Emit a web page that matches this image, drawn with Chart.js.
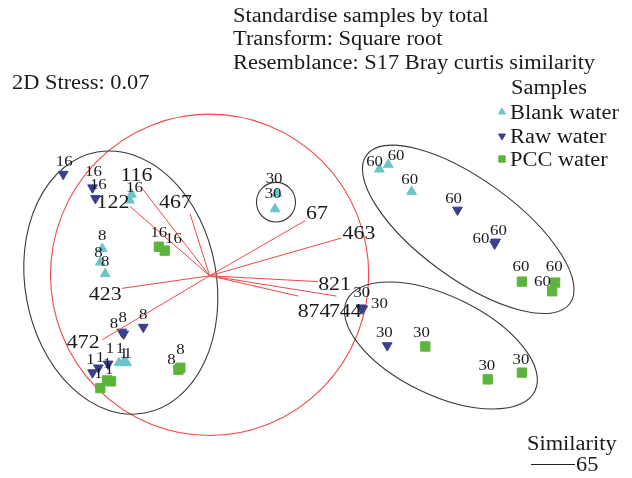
<!DOCTYPE html>
<html>
<head>
<meta charset="utf-8">
<script src="https://cdn.jsdelivr.net/npm/chart.js@4.4.0/dist/chart.umd.min.js"></script>
<style>
    html, body { margin: 0; padding: 0; background: #fff; }
    #wrap { width: 632px; height: 478px; }
</style>
</head>
<body>
<div id="wrap"><canvas id="nmds" width="632" height="478"></canvas></div>
<script>
// nMDS ordination (Bray-Curtis) with vector overlay, clusters at 65% similarity

// ---- sample scores: blank water ----
const blankX    = [-0.80, -0.82, -1.10, -1.12, -1.07, -0.93, -0.88, -0.85, 0.69, 0.67, 1.74, 1.83, 2.07];
const blankY    = [0.84, 0.78, 0.28, 0.14, 0.02, -0.90, -0.89, -0.90, 0.85, 0.69, 1.10, 1.15, 0.87];
const blankTag  = ['16', '', '8', '8', '8', '1', '1', '1', '30', '30', '60', '60', '60'];
const blankTagX = [-0.77, -0.77, -1.10, -1.14, -1.07, -0.92, -0.88, -0.84, 0.66, 0.65, 1.69, 1.91, 2.05];
const blankTagY = [0.92, 0.92, 0.42, 0.25, 0.15, -0.75, -0.80, -0.80, 1.01, 0.85, 1.19, 1.25, 1.00];

// ---- raw water ----
const rawX    = [-1.50, -1.20, -1.17, -0.90, -0.88, -0.68, -1.20, -1.14, -1.04, 2.54, 2.92, 2.93, 1.82, 1.55, 1.57];
const rawY    = [1.05, 0.91, 0.80, -0.58, -0.60, -0.53, -1.00, -0.95, -0.91, 0.68, 0.33, 0.35, -0.72, -0.33, -0.34];
const rawTag  = ['16', '16', '16', '8', '8', '8', '1', '1', '1', '60', '60', '60', '30', '30', '30'];
const rawTagX = [-1.49, -1.19, -1.14, -0.98, -0.89, -0.68, -1.22, -1.12, -1.05, 2.50, 2.78, 2.96, 1.79, 1.56, 1.74];
const rawTagY = [1.18, 1.08, 0.95, -0.49, -0.43, -0.40, -0.86, -0.84, -0.90, 0.80, 0.39, 0.47, -0.58, -0.17, -0.28];

// ---- PCC water ----
const pccX    = [-0.52, -0.46, -0.30, -0.32, -1.05, -1.01, -1.12, 3.20, 3.54, 3.51, 2.21, 2.85, 3.20];
const pccY    = [0.30, 0.26, -0.95, -0.97, -1.08, -1.09, -1.16, -0.06, -0.07, -0.16, -0.73, -1.07, -1.00];
const pccTag  = ['16', '16', '8', '8', '1', '1', '1', '60', '60', '60', '30', '30', '30'];
const pccTagX = [-0.52, -0.37, -0.30, -0.39, -1.14, -1.03, -1.02, 3.19, 3.53, 3.41, 2.17, 2.84, 3.19];
const pccTagY = [0.45, 0.39, -0.76, -0.86, -1.00, -0.96, -0.75, 0.10, 0.10, -0.05, -0.58, -0.92, -0.86];

// ---- correlation vectors (from origin) ----
const vecNames = ['116', '122', '467', '423', '472', '67', '463', '821', '874', '744'];
const vecX     = [-0.69, -0.82, -0.20, -0.90, -1.10, 0.98, 1.35, 1.11, 0.91, 1.30];
const vecY     = [0.90, 0.72, 0.64, -0.13, -0.66, 0.57, 0.39, -0.06, -0.21, -0.21];
const vecTagX  = [-0.75, -0.99, -0.35, -1.07, -1.295, 1.10, 1.53, 1.28, 1.07, 1.39];
const vecTagY  = [1.05, 0.77, 0.77, -0.18, -0.68, 0.65, 0.45, -0.08, -0.36, -0.36];

// ---- contours: correlation circle + 65% similarity groups ----
const ringCx  = [0, 0.68, -0.91, 2.65, 2.37];
const ringCy  = [0.01, 0.76, -0.07, 0.48, -0.72];
const ringRx  = [1.63, 0.20, 0.98, 1.29, 1.07];
const ringRy  = [1.66, 0.205, 1.37, 0.51, 0.51];
const ringRot = [0, 0, 0.18, -0.63, -0.45];   // radians, counter-clockwise in data space

const COL_BLANK = '#6dc4c8';
const COL_RAW   = '#3b3f8e';
const COL_PCC   = '#5db43c';
const COL_RED   = '#ee4848';
const COL_TEXT  = '#1a1a1a';
const SERIF     = '"Liberation Serif", "Times New Roman", serif';
const SX        = 1.12; // the figure text is a bit wider than plain Times

const zip = (xs, ys) => xs.map((x, i) => ({ x, y: ys[i] }));

// stretched serif text, y is visual centre of cap height
function txt(ctx, s, x, y, size, align) {
    ctx.save();
    ctx.font = size + 'px ' + SERIF;
    ctx.fillStyle = COL_TEXT;
    ctx.textAlign = align || 'left';
    ctx.textBaseline = 'alphabetic';
    ctx.translate(x, y + size * 0.33);
    ctx.scale(SX, 1);
    ctx.fillText(s, 0, 0);
    ctx.restore();
}

const contourPlugin = {
    id: 'contours',
    beforeDatasetsDraw(chart) {
        const { ctx, scales: { x, y } } = chart;
        const ux = x.getPixelForValue(1) - x.getPixelForValue(0);
        const uy = y.getPixelForValue(0) - y.getPixelForValue(1);
        ctx.save();
        ringCx.forEach((cx, i) => {
            ctx.beginPath();
            ctx.ellipse(x.getPixelForValue(cx), y.getPixelForValue(ringCy[i]),
                        ringRx[i] * ux, ringRy[i] * uy, -ringRot[i], 0, Math.PI * 2);
            ctx.strokeStyle = i === 0 ? COL_RED : '#3a3a3a';
            ctx.lineWidth = 1.1;
            ctx.stroke();
        });
        ctx.restore();
    },
};

const labelPlugin = {
    id: 'labels',
    afterDatasetsDraw(chart) {
        const { ctx, scales: { x, y } } = chart;
        const put = (tags, tx, ty, size) => tags.forEach((t, i) => {
            if (t) txt(ctx, t, x.getPixelForValue(tx[i]), y.getPixelForValue(ty[i]), size, 'center');
        });
        put(blankTag, blankTagX, blankTagY, 15);
        put(rawTag, rawTagX, rawTagY, 15);
        put(pccTag, pccTagX, pccTagY, 15);
        put(vecNames, vecTagX, vecTagY, 19.5);
    },
    afterDraw(chart) {
        const ctx = chart.ctx;
        txt(ctx, 'Standardise samples by total', 233, 15, 20);
        txt(ctx, 'Transform: Square root', 233, 38, 20);
        txt(ctx, 'Resemblance: S17 Bray curtis similarity', 233, 62, 20);
        txt(ctx, '2D Stress: 0.07', 12, 82, 20);

        // legend
        txt(ctx, 'Samples', 511, 87, 20);
        const items = [
            ['Blank water', COL_BLANK, 'triangle', 0, 112],
            ['Raw water', COL_RAW, 'triangle', 180, 136],
            ['PCC water', COL_PCC, 'rect', 0, 159],
        ];
        items.forEach(([name, col, style, rot, ly]) => {
            ctx.save();
            ctx.fillStyle = col;
            ctx.strokeStyle = col;
            Chart.helpers.drawPoint(ctx, { pointStyle: style, rotation: rot, radius: style === 'rect' ? 4.5 : 4, borderWidth: 1 }, 502, ly);
            ctx.restore();
            txt(ctx, name, 510, ly, 20);
        });

        // similarity key
        txt(ctx, 'Similarity', 527, 443, 20);
        ctx.save();
        ctx.strokeStyle = '#222';
        ctx.lineWidth = 1;
        ctx.beginPath();
        ctx.moveTo(531, 464.5);
        ctx.lineTo(575, 464.5);
        ctx.stroke();
        ctx.restore();
        txt(ctx, '65', 576, 464, 20);
    },
};

const vectorSets = vecNames.map((name, i) => ({
    label: name,
    data: [{ x: 0, y: 0 }, { x: vecX[i], y: vecY[i] }],
    showLine: true,
    borderColor: COL_RED,
    borderWidth: 1,
    pointRadius: 0,
    fill: false,
    order: 1,
}));

const pointSet = (label, xs, ys, col, style, rot, r) => ({
    label,
    data: zip(xs, ys),
    pointStyle: style,
    rotation: rot,
    pointRadius: r,
    backgroundColor: col,
    borderColor: col,
    borderWidth: 1,
    order: 2,
});

new Chart(document.getElementById('nmds'), {
    type: 'scatter',
    data: {
        datasets: [
            pointSet('Blank water', blankX, blankY, COL_BLANK, 'triangle', 0, 5.6),
            pointSet('Raw water', rawX, rawY, COL_RAW, 'triangle', 180, 5.6),
            pointSet('PCC water', pccX, pccY, COL_PCC, 'rect', 0, 6.6),
            ...vectorSets,
        ],
    },
    options: {
        responsive: false,
        animation: false,
        layout: { padding: 0 },
        scales: {
            x: { type: 'linear', min: -2.07, max: 4.25, display: false },
            y: { type: 'linear', min: -2.01, max: 2.77, display: false },
        },
        plugins: {
            legend: { display: false },
            tooltip: { enabled: false },
        },
    },
    plugins: [contourPlugin, labelPlugin],
});
</script>
</body>
</html>
